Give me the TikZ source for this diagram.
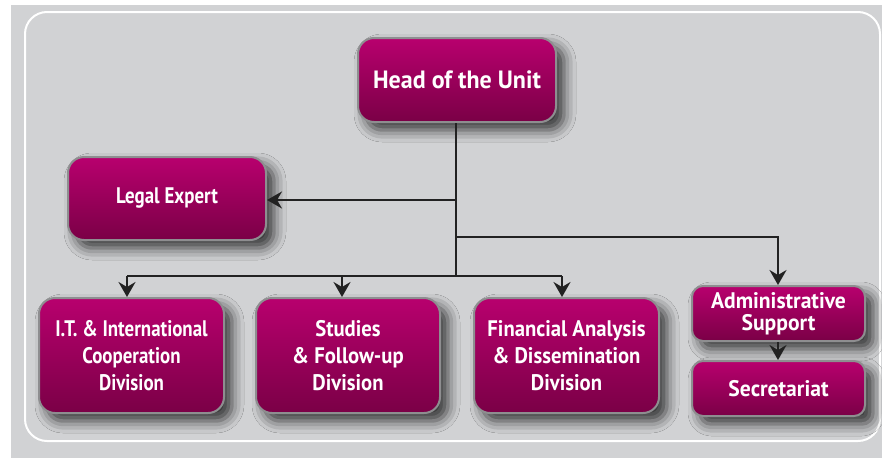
\documentclass[tikz,border=0pt]{standalone}
\usepackage{fontspec}
\setmainfont{PT Sans}[FakeStretch=0.84]
\newfontfamily\fwide{PT Sans}[FakeStretch=0.96]
\newfontfamily\fmid{PT Sans}[FakeStretch=0.92]
\usetikzlibrary{arrows.meta,shadows.blur}
\definecolor{bggray}{HTML}{D1D2D4}
\definecolor{boxtop}{HTML}{B8006E}
\definecolor{boxbot}{HTML}{7A0046}
\definecolor{boxedge}{HTML}{8E8E90}
\definecolor{linecol}{HTML}{222222}
\tikzset{
  unit/.style={rounded corners=16pt, draw=boxedge, line width=2pt,
    top color=boxtop, bottom color=boxbot, text=white,
    font=\bfseries\fontsize{22.5}{27}\selectfont, align=center,
    inner sep=0pt,
    blur shadow={shadow xshift=8pt, shadow yshift=-8pt, shadow blur radius=12pt, shadow opacity=75}},
  smallunit/.style={unit, rounded corners=11pt, font=\fwide\bfseries\fontsize{22.5}{22}\selectfont},
  link/.style={draw=linecol, line width=2pt},
  arr/.style={link, -{Stealth[length=15pt,width=17pt,inset=5pt]}}
}
\begin{document}
\begin{tikzpicture}[x=1pt,y=-1pt]
\useasboundingbox (0,0) rectangle (882,458);
\fill[bggray] (11,5) rectangle (882,458);
\draw[white, line width=2pt, rounded corners=22pt] (25,12) rectangle (880,441);

\node[unit, minimum width=198pt, minimum height=84pt, font=\fwide\bfseries\fontsize{25}{27}\selectfont] (head) at (457,80) {Head of the Unit};
\node[unit, minimum width=198pt, minimum height=83pt] (legal) at (167,198.5) {Legal Expert};
\node[unit, minimum width=185pt, minimum height=115pt] (it) at (131.5,355.5) {I.T. \& International\\Cooperation\\Division};
\node[unit, minimum width=184pt, minimum height=115pt, font=\fmid\bfseries\fontsize{22.5}{27}\selectfont] (stud) at (348,355.5) {Studies\\\& Follow-up\\Division};
\node[unit, minimum width=185pt, minimum height=115pt, font=\fmid\bfseries\fontsize{22.5}{27}\selectfont] (fin) at (566.5,355.5) {Financial Analysis\\\& Dissemination\\Division};
\node[smallunit, minimum width=173pt, minimum height=55pt] (adm) at (778.5,313.5) {Administrative\\Support};
\node[smallunit, minimum width=173pt, minimum height=55pt] (sec) at (778.5,388.5) {Secretariat};

\coordinate (tl) at (456,200);
\coordinate (ta) at (456,237);
\coordinate (tb) at (456,276);
\coordinate (ca) at (778,237);
\coordinate (bl) at (127,276);
\coordinate (bs) at (342,276);
\coordinate (bf) at (562,276);

\draw[link] (head.south -| tb) -- (tb);
\draw[arr] (tl) -- (legal.east |- tl);
\draw[arr] (ta) -- (ca) -- (adm.north -| ca);
\draw[link] (bl) -- (bf);
\draw[arr] (bl) -- (it.north -| bl);
\draw[arr] (bs) -- (stud.north -| bs);
\draw[arr] (bf) -- (fin.north -| bf);
\draw[arr] (adm.south -| ca) -- (sec.north -| ca);
\end{tikzpicture}
\end{document}
